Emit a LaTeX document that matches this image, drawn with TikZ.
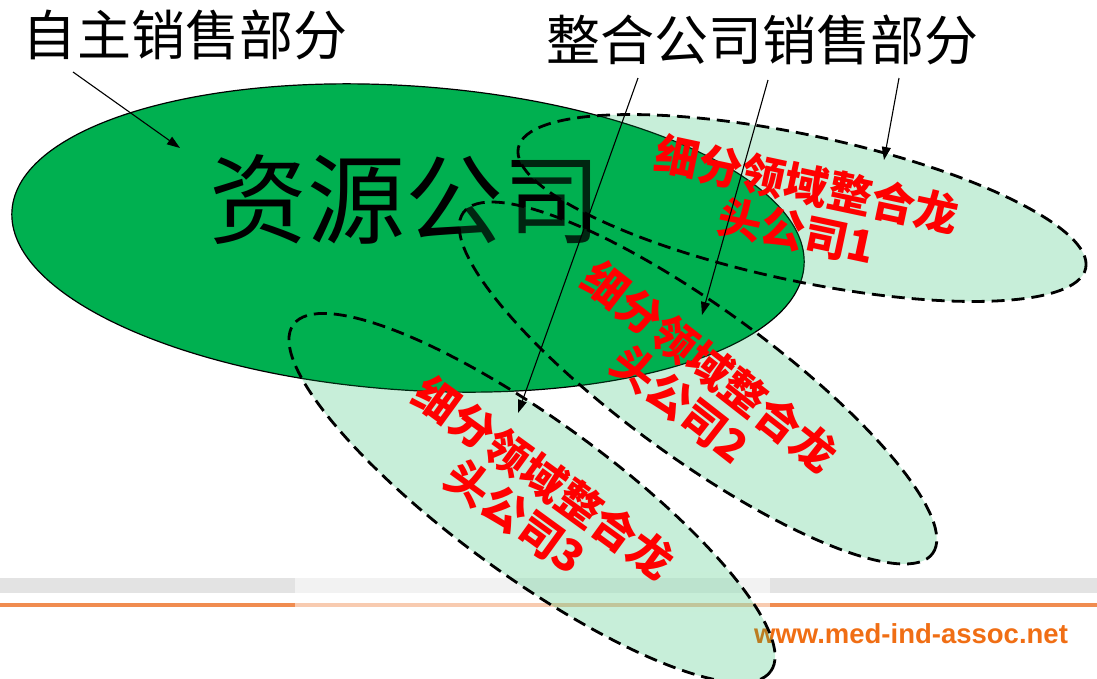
\documentclass[tikz,border=0pt]{standalone}
\usepackage{fontspec}
\setmainfont{Liberation Sans}
\newfontfamily\cjk{Noto Sans CJK SC}
\usetikzlibrary{arrows.meta}
\usetikzlibrary{shapes.geometric}
\definecolor{pptgreen}{RGB}{0,176,80}
\definecolor{footgray}{RGB}{227,227,227}
\definecolor{footorange}{RGB}{240,140,80}
\definecolor{urlorange}{RGB}{240,110,20}

\begin{document}
\begin{tikzpicture}[
            x=1pt, y=-1pt,
            company/.style={ellipse, draw=black, line width=1.2pt, fill=pptgreen, inner sep=0pt},
            niche/.style={ellipse, draw=black, dash pattern=on 13pt off 7pt, line width=2.8pt,
                fill=pptgreen, fill opacity=0.22, draw opacity=1, inner sep=0pt,
                minimum width=580pt, minimum height=150pt},
            nichelabel/.style={red, align=center, font=\cjk\bfseries\fontsize{44}{48}\selectfont},
            caption/.style={font=\cjk\fontsize{54}{60}\selectfont},
            pointer/.style={-{Triangle[length=13pt, width=9pt]}, line width=1.1pt},
        ]
            \useasboundingbox (0,0) rectangle (1097,678);

            % --- Pie de página ---
            \fill[footgray] (0,578) rectangle (1097,593);
            \fill[footorange] (0,603) rectangle (1097,607);
            \node[font=\bfseries\fontsize{27.5}{30}\selectfont, text=urlorange] (url) at (911,634) {www.med-ind-assoc.net};
            \fill[white, opacity=0.55] (295,572) rectangle (770,612);

            % --- Elipse grande ---
            \node[company, minimum width=794pt, minimum height=304pt, rotate=-4] (res) at (408,238) {};
            \node[font=\cjk\fontsize{98}{100}\selectfont] (resname) at (405,200) {资源公司};

            % --- Elipses punteadas ---
            \node[niche, rotate=-12, minimum height=146pt] (co1) at (802,208) {};
            \node[niche, rotate=-36] (co2) at (698,383) {};
            \node[niche, rotate=-36, minimum width=590pt, minimum height=156pt] (co3) at (532,498) {};

            % --- Etiquetas ---
            \node[nichelabel, rotate=-12] (lab1) at (802,208) {细分领域整合龙\\头公司1};
            \node[nichelabel, rotate=-38] (lab2) at (695,385) {细分领域整合龙\\头公司2};
            \node[nichelabel, rotate=-36] (lab3) at (530,497) {细分领域整合龙\\头公司3};

            \node[caption] (own) at (185,35) {自主销售部分};
            \node[caption] (merged) at (762,40) {整合公司销售部分};

            % --- Flechas ---
            \coordinate (own0) at (73,72);
            \coordinate (tip0) at (180,148);
            \coordinate (m3) at (638,78);
            \coordinate (tip3) at (518,413);
            \coordinate (m2) at (768,80);
            \coordinate (tip2) at (702,315);
            \coordinate (m1) at (899,78);
            \coordinate (tip1) at (884,160);
            \draw[pointer] (own0) -- (tip0);
            \draw[pointer] (m3) -- (tip3);
            \draw[pointer] (m2) -- (tip2);
            \draw[pointer] (m1) -- (tip1);
        \end{tikzpicture}
\end{document}
